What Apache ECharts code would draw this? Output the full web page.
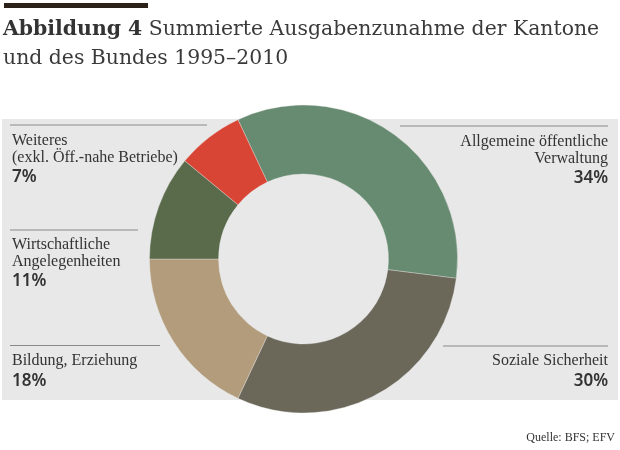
<!DOCTYPE html>
<html>
<head>
<meta charset="utf-8">
<script src="https://cdn.jsdelivr.net/npm/echarts@6/dist/echarts.min.js"></script>
<style>
	html, body { margin: 0; padding: 0; background: #fff; }
	#chart { width: 620px; height: 450px; }
</style>
</head>
<body>
<div id="chart"></div>
<script type="text/javascript">
    // Daten
    var categories = ['Allgemeine öffentliche\nVerwaltung', 'Soziale Sicherheit', 'Bildung, Erziehung', 'Wirtschaftliche\nAngelegenheiten', 'Weiteres\n(exkl. Öff.-nahe Betriebe)'];
    var shares = [34, 30, 18, 11, 7];

    var palette = ['#668b70', '#6b6759', '#b39c7c', '#5a6b4b', '#d94535'];
    // Beschriftung: Linie und Textanker je Segment
    var labelPos = [
        { align: 'right', x: 608, lineX: [400, 608], lineY: 126, y: 142 },
        { align: 'right', x: 608, lineX: [443, 608], lineY: 346, y: 361 },
        { align: 'left',  x: 12,  lineX: [10, 160],  lineY: 345.5, y: 361 },
        { align: 'left',  x: 12,  lineX: [10, 138],  lineY: 230, y: 245 },
        { align: 'left',  x: 12,  lineX: [10, 207],  lineY: 125, y: 141 }
    ];

    var serif = '"Liberation Serif", serif';
    var graphics = [
        { type: 'rect', z: -10, shape: { x: 4, y: 3, width: 144, height: 5 }, style: { fill: '#2b2119' } },
        { type: 'rect', z: -10, shape: { x: 2, y: 119, width: 616, height: 281 }, style: { fill: '#e8e8e8' } },
        { type: 'text', right: 5, top: 432, style: { text: 'Quelle: BFS; EFV', font: '12px ' + serif, fill: '#333' } }
    ];

    categories.forEach(function (name, i) {
        var p = labelPos[i];
        graphics.push({ type: 'line', z: -5, shape: { x1: p.lineX[0], y1: p.lineY, x2: p.lineX[1], y2: p.lineY }, style: { stroke: '#8a8a8a', lineWidth: 1 } });
        var lines = name.split('\n');
        lines.forEach(function (t, k) {
            graphics.push({ type: 'text', x: p.x, y: p.y + k * 16.5, style: { text: t, font: '16px ' + serif, fill: '#333', align: p.align, verticalAlign: 'middle' } });
        });
        graphics.push({ type: 'text', x: p.x, y: p.y + lines.length * 16.5 + 3.5, style: { text: shares[i] + '%', font: '600 17px "Noto Sans", sans-serif', fill: '#333', align: p.align, verticalAlign: 'middle' } });
    });

    var myChart = echarts.init(document.getElementById('chart'));
    var option = {
        animation: false,
        title: {
            left: -2, top: 10,
            text: '{b|Abbildung 4} Summierte Ausgabenzunahme der Kantone\nund des Bundes 1995–2010',
            textStyle: {
                fontFamily: '"DejaVu Serif", serif', fontSize: 20.4, fontWeight: 'normal', color: '#3a3a3a', lineHeight: 29,
                rich: { b: { fontFamily: '"DejaVu Serif", serif', fontSize: 20.4, fontWeight: 'bold', color: '#333', lineHeight: 29 } }
            }
        },
        graphic: graphics,
        series: [{
            type: 'pie',
            center: [303.5, 259],
            radius: [85, 154],
            startAngle: 115.2,
            clockwise: true,
            label: { show: false },
            labelLine: { show: false },
            emphasis: { disabled: true },
            itemStyle: { borderColor: 'rgba(232,232,232,0.35)', borderWidth: 1 },
            data: categories.map(function (n, i) {
                return { name: n, value: shares[i], itemStyle: { color: palette[i] } };
            })
        }]
    };
    myChart.setOption(option);
</script>
</body>
</html>
